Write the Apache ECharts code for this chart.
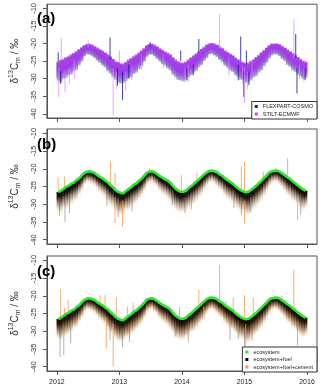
<!DOCTYPE html>
<html>
<head>
<meta charset="utf-8">
<script src="https://cdn.jsdelivr.net/npm/echarts@6/dist/echarts.min.js"></script>
<style>
  html, body { margin: 0; padding: 0; background: #fff; }
  #chart { width: 320px; height: 388px; }
</style>
</head>
<body>
<div id="chart"></div>
<script>
// half-month steps 2012-2015 (24 per year)
const years = [2012, 2013, 2014, 2015];
const yTicks = [-40, -35, -30, -25, -20, -15, -10];
const xTicks = [2012, 2013, 2014, 2015, 2016];

// (a) model comparison: upper / lower edge of the dense band
const flexHi = [
  -25.4,-24.8,-24.7,-24.1,-23.8,-23.4,-22.8,-22.5,-21.8,-21.3,-20.7,-20.3,-20.3,-20.5,-21.0,-21.4,-21.8,-22.3,-22.7,-23.3,-23.9,-24.5,-25.3,-25.4,
  -25.9,-26.0,-25.4,-24.9,-24.3,-23.9,-23.3,-22.8,-22.1,-21.5,-20.7,-20.3,-20.3,-20.6,-21.0,-21.6,-22.0,-22.5,-22.8,-23.3,-24.1,-24.8,-25.3,-25.6,
  -25.7,-25.3,-24.8,-24.1,-23.6,-23.0,-22.4,-21.7,-21.2,-20.5,-20.2,-20.0,-20.3,-20.5,-21.1,-21.5,-22.2,-22.6,-23.1,-23.5,-24.2,-24.7,-25.2,-25.5,
  -25.8,-25.7,-25.1,-24.7,-24.0,-23.5,-22.7,-22.1,-21.3,-20.7,-20.2,-20.2,-20.1,-20.4,-20.9,-21.3,-21.9,-22.4,-22.9,-23.5,-24.0,-24.6,-25.1,-25.4
];
const flexLo = [
  -30.6,-31.1,-30.0,-29.8,-29.1,-28.8,-27.9,-27.5,-26.3,-25.2,-23.7,-23.1,-23.2,-23.6,-24.1,-24.9,-25.5,-26.2,-26.8,-27.9,-28.6,-29.5,-30.3,-31.1,
  -31.4,-31.2,-30.7,-30.1,-29.6,-28.7,-28.3,-27.3,-26.5,-25.2,-23.8,-23.2,-23.2,-23.7,-24.4,-25.1,-25.9,-26.3,-27.1,-27.7,-28.9,-29.6,-30.4,-30.5,
  -30.8,-30.3,-29.6,-29.1,-28.3,-27.8,-26.8,-26.1,-25.0,-24.2,-23.1,-23.0,-23.4,-23.9,-24.7,-25.3,-26.3,-26.9,-27.7,-28.1,-29.0,-29.5,-30.3,-30.4,
  -31.2,-31.1,-30.5,-29.7,-29.3,-28.3,-27.6,-26.5,-25.5,-24.3,-23.4,-23.0,-23.2,-23.6,-24.4,-25.0,-26.1,-26.7,-27.6,-28.1,-28.9,-29.4,-30.2,-29.9
];
const stiltHi = [
  -25.0,-24.6,-24.3,-23.8,-23.5,-23.0,-22.6,-22.1,-21.6,-21.0,-20.4,-20.1,-20.0,-20.3,-20.7,-21.1,-21.6,-22.0,-22.5,-23.0,-23.6,-24.3,-24.9,-25.2,
  -25.6,-25.6,-25.2,-24.5,-24.1,-23.5,-23.1,-22.5,-21.9,-21.2,-20.4,-20.1,-20.0,-20.3,-20.8,-21.3,-21.8,-22.2,-22.6,-23.0,-23.8,-24.5,-25.0,-25.3,
  -25.4,-25.1,-24.5,-23.9,-23.3,-22.8,-22.1,-21.5,-20.9,-20.3,-19.9,-19.8,-20.0,-20.3,-20.8,-21.3,-21.9,-22.4,-22.8,-23.3,-23.9,-24.4,-24.9,-25.3,
  -25.5,-25.4,-24.9,-24.4,-23.8,-23.2,-22.5,-21.8,-21.1,-20.4,-20.0,-19.9,-19.9,-20.1,-20.6,-21.1,-21.6,-22.1,-22.7,-23.2,-23.8,-24.3,-24.8,-25.1
];
const stiltLo = [
  -29.8,-30.2,-29.3,-28.9,-28.4,-27.9,-27.2,-26.6,-25.6,-24.5,-23.0,-22.5,-22.6,-22.9,-23.4,-24.1,-24.8,-25.3,-26.0,-27.0,-27.9,-28.6,-29.5,-30.2,
  -30.5,-30.4,-29.8,-29.4,-28.7,-28.0,-27.4,-26.6,-25.7,-24.5,-23.1,-22.6,-22.5,-23.0,-23.6,-24.4,-25.0,-25.6,-26.2,-27.0,-28.0,-28.9,-29.5,-29.8,
  -29.9,-29.5,-28.9,-28.2,-27.6,-26.9,-26.1,-25.3,-24.3,-23.4,-22.5,-22.4,-22.7,-23.2,-23.9,-24.6,-25.5,-26.2,-26.8,-27.4,-28.1,-28.8,-29.4,-29.7,
  -30.3,-30.4,-29.6,-29.0,-28.4,-27.6,-26.7,-25.8,-24.7,-23.6,-22.7,-22.4,-22.5,-22.9,-23.6,-24.3,-25.3,-26.0,-26.8,-27.3,-28.0,-28.7,-29.3,-29.1
];
// isolated excursions: [year, from, to]
const flexSpikes = [
  [2012.02,-25,-22.5],[2012.06,-28,-31.5],[2012.85,-24.5,-18.3],[2012.97,-27,-32],[2013.05,-28,-36.1],[2013.15,-26,-29.8],
  [2013.49,-21,-19.6],[2013.98,-25,-22.0],[2014.08,-27,-30.5],[2014.18,-26,-29],[2014.27,-22.5,-18.7],[2014.9,-26,-30.5],
  [2014.94,-25,-18.0],[2014.99,-28,-35.2],[2015.03,-26,-22],[2015.07,-28,-31.8],[2015.82,-24,-17.3],[2015.84,-27,-34.2],
  [2015.97,-27,-30.4]
];
const stiltSpikes = [
  [2012.03,-27,-35.2],[2012.07,-25,-18.3],[2012.13,-28,-33.8],[2012.2,-27,-31.5],[2012.28,-24.5,-30],
  [2012.5,-21,-19.2],[2012.9,-27,-40.4],[2012.95,-28,-33],[2013.0,-25.5,-22],[2013.1,-28,-33.5],
  [2013.2,-26,-30.5],[2013.35,-23,-27.5],[2013.7,-23,-27],[2014.05,-27,-31],[2014.1,-26,-31],
  [2014.6,-21,-11.7],[2014.75,-24,-29],[2014.97,-26.5,-31.5],[2015.0,-27,-37],[2015.05,-28,-33],
  [2015.12,-25,-29.5],[2015.79,-24,-13.1],[2015.88,-26,-30],[2015.95,-27,-30.8]
];

// (b)/(c) source contributions
const eco = [
  -26.6,-26.2,-25.7,-25.1,-24.8,-24.2,-23.9,-23.2,-22.7,-21.9,-21.2,-20.8,-20.7,-20.9,-21.2,-21.8,-22.3,-22.7,-23.3,-23.8,-24.6,-25.2,-26.0,-26.5,
  -26.8,-26.9,-26.3,-25.7,-25.2,-24.5,-24.1,-23.4,-22.8,-22.0,-21.1,-20.8,-20.7,-21.0,-21.5,-22.1,-22.5,-23.0,-23.3,-23.9,-24.8,-25.6,-26.1,-26.5,
  -26.5,-26.2,-25.5,-24.9,-24.3,-23.6,-23.0,-22.3,-21.6,-21.0,-20.6,-20.5,-20.7,-21.0,-21.6,-22.0,-22.7,-23.2,-23.7,-24.2,-24.9,-25.5,-26.0,-26.4,
  -26.6,-26.5,-26.0,-25.4,-24.8,-24.1,-23.4,-22.6,-21.9,-21.1,-20.7,-20.6,-20.5,-20.8,-21.3,-21.8,-22.4,-22.9,-23.5,-24.1,-24.7,-25.3,-25.8,-26.2
];
const fuelLo = [
  -31.5,-32.0,-30.8,-30.9,-30.2,-29.6,-28.8,-28.4,-27.0,-25.8,-24.2,-23.5,-23.6,-24.0,-24.4,-25.3,-26.2,-26.8,-27.6,-28.9,-29.8,-30.3,-31.4,-32.2,
  -32.5,-32.0,-31.4,-31.2,-30.4,-29.8,-29.0,-28.2,-27.2,-25.9,-24.3,-23.6,-23.4,-24.1,-24.8,-25.9,-26.6,-27.2,-27.8,-28.8,-29.8,-30.9,-31.6,-31.9,
  -31.8,-31.2,-30.6,-29.9,-29.4,-28.6,-27.7,-26.8,-25.6,-24.5,-23.6,-23.4,-23.8,-24.6,-25.4,-26.0,-27.2,-27.9,-28.6,-29.1,-29.9,-30.8,-31.4,-31.7,
  -32.3,-32.6,-31.6,-30.8,-30.2,-29.3,-28.3,-27.3,-26.0,-24.6,-23.7,-23.3,-23.5,-24.1,-24.9,-25.8,-26.9,-27.5,-28.4,-29.0,-29.8,-30.6,-31.2,-30.5
];
const cementLo = [
  -32.2,-32.9,-31.4,-31.5,-30.9,-30.3,-29.4,-28.9,-27.6,-26.4,-24.8,-24.0,-24.1,-24.6,-25.1,-25.9,-26.9,-27.5,-28.3,-29.5,-30.6,-31.0,-32.1,-33.0,
  -33.2,-32.8,-32.0,-31.9,-31.0,-30.5,-29.6,-28.9,-27.8,-26.5,-24.9,-24.1,-24.0,-24.7,-25.4,-26.5,-27.3,-27.8,-28.5,-29.4,-30.5,-31.6,-32.3,-32.6,
  -32.5,-31.9,-31.3,-30.6,-30.0,-29.3,-28.3,-27.5,-26.2,-25.0,-24.2,-23.9,-24.3,-25.2,-26.0,-26.7,-27.8,-28.6,-29.2,-29.8,-30.6,-31.5,-32.1,-32.3,
  -33.0,-33.3,-32.3,-31.5,-30.8,-30.0,-29.0,-27.9,-26.6,-25.2,-24.3,-23.8,-24.0,-24.7,-25.5,-26.5,-27.5,-28.2,-29.1,-29.7,-30.5,-31.3,-31.9,-31.2
];
const cementSpikesB = [
  [2012.02,-26,-22.5],[2012.12,-25.5,-22.2],[2012.86,-24.5,-17.9],[2012.93,-26,-21.2],[2013.48,-21,-19.7],
  [2013.99,-26.5,-21.8],[2014.24,-23.2,-21.1],[2014.95,-26,-19.4],[2015.0,-26.5,-18.1],[2015.3,-23,-20.8],
  [2015.5,-21,-19.8],[2015.69,-22,-17.1],[2012.93,-28,-35.3],[2013.05,-29,-36.3],[2015.0,-29,-35.4],[2015.85,-28,-34.4]
];
const fuelSpikesB = [
  [2012.04,-28,-33.2],[2012.13,-28,-35.0],[2012.2,-27,-32.5],[2012.8,-26,-30.5],[2012.98,-28,-33.6],[2013.2,-27,-32],
  [2013.85,-26,-30.2],[2014.05,-28,-32.5],[2014.15,-27,-31.4],[2014.83,-26,-31],[2014.95,-28,-33],[2015.1,-28,-32.2],
  [2015.9,-27,-33]
];
const cementSpikesC = [
  [2012.06,-26,-18.2],[2012.12,-25.5,-23.4],[2012.18,-24.5,-21.2],[2012.69,-22.5,-19.8],[2012.77,-23.5,-19.8],
  [2012.95,-26.5,-20.4],[2013.13,-26,-23.1],[2013.22,-25,-22.0],[2013.96,-26.5,-23.1],[2014.27,-23,-18.4],
  [2014.6,-21.5,-11.3],[2014.7,-23,-21.5],[2014.82,-24.5,-20.6],[2015.0,-26.5,-19.8],[2015.14,-26,-20.5],
  [2015.6,-21.5,-20],[2015.79,-24,-12.7],[2012.9,-28,-40],[2012.79,-26,-34.8],[2015.02,-28,-34.3],[2014.35,-23,-26.5]
];
const fuelSpikesC = [
  [2012.05,-29,-37.2],[2012.11,-28,-36.7],[2012.22,-27,-33.3],[2012.85,-27,-32.4],[2013.05,-29,-34.5],[2013.16,-28,-33],
  [2013.9,-27,-31.5],[2014.1,-28,-33],[2014.77,-26,-32.5],[2014.9,-27,-32.2],[2015.0,-29,-37.2],[2015.12,-28,-32.6],
  [2015.85,-28,-34]
];

const steps = [];
years.forEach(y => { for (let k = 0; k < 24; k++) steps.push(y + (k + 0.5) / 24); });
const band = (hi, lo) => steps.map((t, i) => [t, hi[i], lo[i]]);

const FONT = 'Liberation Sans, Arial, sans-serif';
const grids = [
  { left: 38, top: 3, width: 279, height: 115 },
  { left: 38, top: 129, width: 279, height: 115 },
  { left: 38, top: 256, width: 279, height: 115 }
];

function bandItem(stops) {
  return function (params, api) {
    const t = api.value(0);
    const p1 = api.coord([t, api.value(1)]);
    const p2 = api.coord([t, api.value(2)]);
    const w = api.size([1 / 24, 0])[0] + 0.6;
    return {
      type: 'rect',
      shape: { x: p1[0] - w / 2, y: p1[1], width: w, height: p2[1] - p1[1] },
      style: { fill: new echarts.graphic.LinearGradient(0, 0, 0, 1, stops) }
    };
  };
}
function spikeItem(color) {
  return function (params, api) {
    const p1 = api.coord([api.value(0), api.value(1)]);
    const p2 = api.coord([api.value(0), api.value(2)]);
    return {
      type: 'line',
      shape: { x1: p1[0], y1: p1[1], x2: p2[0], y2: p2[1] },
      style: { stroke: color, lineWidth: 1 }
    };
  };
}
function bandSeries(name, idx, data, stops) {
  return { name, type: 'custom', xAxisIndex: idx, yAxisIndex: idx, data, renderItem: bandItem(stops),
    encode: { x: 0, y: [1, 2] }, clip: true, silent: true };
}
function spikeSeries(name, idx, data, color) {
  return { name, type: 'custom', xAxisIndex: idx, yAxisIndex: idx, data, renderItem: spikeItem(color),
    encode: { x: 0, y: [1, 2] }, clip: true, silent: true };
}

const series = [
  bandSeries('FLEXPART-COSMO', 0, band(flexHi, flexLo), [
    { offset: 0, color: 'rgba(25,25,140,0.9)' }, { offset: 0.7, color: 'rgba(25,25,140,0.7)' },
    { offset: 1, color: 'rgba(60,60,160,0.3)' }]),
  bandSeries('STILT-ECMWF', 0, band(stiltHi, stiltLo), [
    { offset: 0, color: 'rgba(205,80,255,0.7)' }, { offset: 0.6, color: 'rgba(185,55,250,0.72)' },
    { offset: 1, color: 'rgba(220,130,255,0.45)' }]),
  spikeSeries('FLEXPART-COSMO', 0, flexSpikes, 'rgba(30,30,150,0.85)'),
  spikeSeries('STILT-ECMWF', 0, stiltSpikes, 'rgba(215,130,255,0.7)')
];
[1, 2].forEach(idx => {
  const strong = idx === 2;
  series.push(
    bandSeries('ecosystem+fuel+cement', idx, band(eco, cementLo), [
      { offset: 0, color: strong ? 'rgba(210,110,25,0.9)' : 'rgba(235,145,60,0.75)' },
      { offset: 0.6, color: strong ? 'rgba(225,135,50,0.5)' : 'rgba(240,160,90,0.35)' },
      { offset: 1, color: 'rgba(245,175,110,0.08)' }]),
    bandSeries('ecosystem+fuel', idx, band(eco, fuelLo), [
      { offset: 0, color: 'rgba(0,0,0,1)' },
      { offset: 0.3, color: strong ? 'rgba(15,8,0,0.85)' : 'rgba(0,0,0,0.85)' },
      { offset: 0.65, color: 'rgba(30,30,30,0.35)' },
      { offset: 1, color: 'rgba(90,90,90,0.05)' }]),
    spikeSeries('ecosystem+fuel', idx, strong ? fuelSpikesC : fuelSpikesB, 'rgba(110,110,110,0.55)'),
    spikeSeries('ecosystem+fuel+cement', idx, strong ? cementSpikesC : cementSpikesB, 'rgba(245,150,60,0.75)'),
    { name: 'ecosystem', type: 'line', xAxisIndex: idx, yAxisIndex: idx, data: steps.map((t, i) => [t, eco[i]]),
      symbol: 'none', lineStyle: { color: '#2ee62e', width: 2.6 }, silent: true, z: 3 }
  );
});

const yName = '{g|δ}{s|13}{g|C}{m|m}{g| / ‰}';
const option = {
  animation: false,
  title: ['(a)', '(b)', '(c)'].map((t, i) => ({
    text: t, left: 37, top: [11, 137, 264][i], padding: 0,
    textStyle: { fontSize: 15, fontWeight: 'bold', color: '#000', fontFamily: FONT }
  })),
  grid: grids.map(g => Object.assign({ show: true, borderColor: '#555', borderWidth: 1, backgroundColor: '#fff' }, g)),
  xAxis: [0, 1, 2].map(i => ({
    gridIndex: i, type: 'value', min: 2011.84, max: 2016.16,
    splitLine: { show: false },
    axisLine: { show: true, lineStyle: { color: '#555' } },
    axisTick: { show: true, length: 4, customValues: xTicks, lineStyle: { color: '#555' } },
    axisLabel: { show: i === 2, customValues: xTicks, formatter: v => String(v),
      fontSize: 7, color: '#222', margin: 8, fontFamily: FONT }
  })),
  yAxis: [0, 1, 2].map(i => ({
    gridIndex: i, type: 'value', min: -41.2, max: -8.8,
    splitLine: { show: false },
    axisLine: { show: true, lineStyle: { color: '#555' } },
    axisTick: { show: true, length: 4, customValues: yTicks, lineStyle: { color: '#555' } },
    axisLabel: { customValues: yTicks, rotate: 90, fontSize: 7.5, color: '#333', margin: 9, fontFamily: FONT },
    name: yName, nameLocation: 'middle', nameGap: 23, nameRotate: 90,
    nameTextStyle: {
      fontFamily: FONT, color: '#333',
      rich: {
        g: { fontSize: 10, lineHeight: 14, color: '#333', fontFamily: FONT },
        s: { fontSize: 7, lineHeight: 7, verticalAlign: 'top', color: '#333', fontFamily: FONT },
        m: { fontSize: 7, lineHeight: 7, verticalAlign: 'bottom', color: '#333', fontFamily: FONT }
      }
    }
  })),
  legend: [
    {
      data: [
        { name: 'FLEXPART-COSMO', icon: 'rect', itemStyle: { color: '#1e1e96' } },
        { name: 'STILT-ECMWF', icon: 'rect', itemStyle: { color: '#cc44ff' } }
      ],
      orient: 'vertical', right: 3, bottom: 269, selectedMode: false,
      itemWidth: 3, itemHeight: 3, itemGap: 1.5, padding: [2, 4, 2, 3],
      borderColor: '#333', borderWidth: 1, borderRadius: 0, backgroundColor: '#fff',
      textStyle: { fontSize: 5.5, color: '#222', fontFamily: FONT, lineHeight: 6 }
    },
    {
      data: [
        { name: 'ecosystem', icon: 'rect', itemStyle: { color: '#2ee62e' } },
        { name: 'ecosystem+fuel', icon: 'rect', itemStyle: { color: '#000' } },
        { name: 'ecosystem+fuel+cement', icon: 'rect', itemStyle: { color: '#f59a3c' } }
      ],
      orient: 'vertical', right: 3, bottom: 16, selectedMode: false,
      itemWidth: 3, itemHeight: 3, itemGap: 1.5, padding: [2, 4, 2, 3],
      borderColor: '#333', borderWidth: 1, borderRadius: 0, backgroundColor: '#fff',
      textStyle: { fontSize: 5.5, color: '#222', fontFamily: FONT, lineHeight: 6 }
    }
  ],
  series
};

const chart = echarts.init(document.getElementById('chart'), null, { renderer: 'canvas' });
chart.setOption(option);
</script>
</body>
</html>
